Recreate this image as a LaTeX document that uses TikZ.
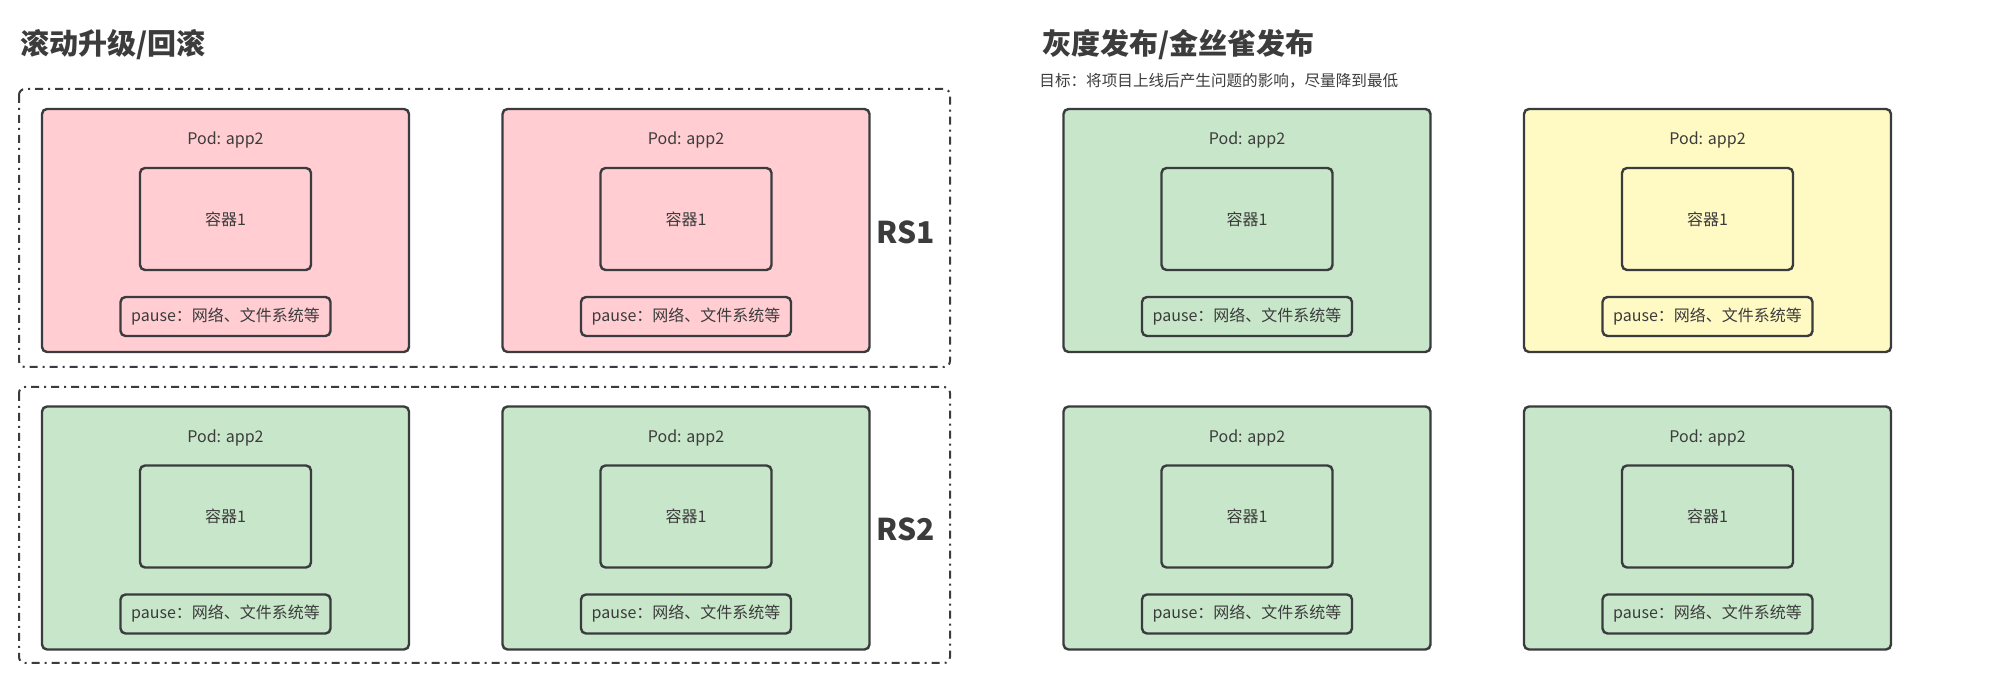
\documentclass[tikz,border=0pt]{standalone}
\usepackage{fontspec}
\setmainfont{Noto Sans CJK SC}
\usepackage{xcolor}
\usepackage{tikz}
\definecolor{linecol}{HTML}{393B3E}
\definecolor{textcol}{HTML}{3C3C3C}
\definecolor{podpink}{HTML}{FFCDD2}
\definecolor{podgreen}{HTML}{C8E6C9}
\definecolor{podyellow}{HTML}{FFF9C4}

\begin{document}
\begin{tikzpicture}[x=0.5pt, y=-0.5pt, text=textcol,
    pod/.style={draw=linecol, line width=1.2pt, rounded corners=2.5pt, minimum width=183.5pt, minimum height=121.5pt, inner sep=0pt},
    ctr/.style={draw=linecol, line width=1.2pt, rounded corners=2.5pt, minimum width=85.5pt, minimum height=51pt, inner sep=0pt, font=\fontsize{8}{9}\selectfont},
    pausebox/.style={draw=linecol, line width=1.2pt, rounded corners=2.5pt, minimum width=105pt, minimum height=19.5pt, inner sep=0pt, font=\fontsize{8}{9}\selectfont},
    rsbox/.style={draw=linecol, line width=1pt, dash pattern=on 4pt off 2.5pt on 1pt off 2.5pt, rounded corners=3pt},
    title/.style={anchor=west, inner sep=0pt, font=\bfseries\fontsize{14.5}{16}\selectfont},
    rslabel/.style={font=\bfseries\fontsize{15}{16}\selectfont}]
    \useasboundingbox (0,0) rectangle (1991,688);
    % titles
    \node[title] (t1) at (20,45) {滚动升级/回滚};
    \node[title] (t2) at (1042,45) {灰度发布/金丝雀发布};
    \node[anchor=west, inner sep=0pt, font=\fontsize{7.8}{9}\selectfont] (goal) at (1039,81) {目标：将项目上线后产生问题的影响，尽量降到最低};
    % replica sets
    \draw[rsbox] (19,89) rectangle (950,367);
    \draw[rsbox] (19,387) rectangle (950,663);
    \node[rslabel] (rs1) at (906,232) {RS1};
    \node[rslabel] (rs2) at (906,529) {RS2};
    % pods
    \foreach \n/\x/\y/\c in {a/225.5/230.5/podpink, b/686/230.5/podpink,
        c/225.5/528/podgreen, d/686/528/podgreen,
        e/1247/230.5/podgreen, f/1707.5/230.5/podyellow,
        g/1247/528/podgreen, h/1707.5/528/podgreen}{
      \node[pod, fill=\c] (pod\n) at (\x,\y) {};
      \node[font=\fontsize{8}{9}\selectfont] (name\n) at (\x,\y-90.5) {Pod: app2};
      \node[ctr] (ctr\n) at (\x,\y-11.5) {容器1};
      \node[pausebox] (pause\n) at (\x,\y+86) {pause：网络、文件系统等};
    }
\end{tikzpicture}
\end{document}
